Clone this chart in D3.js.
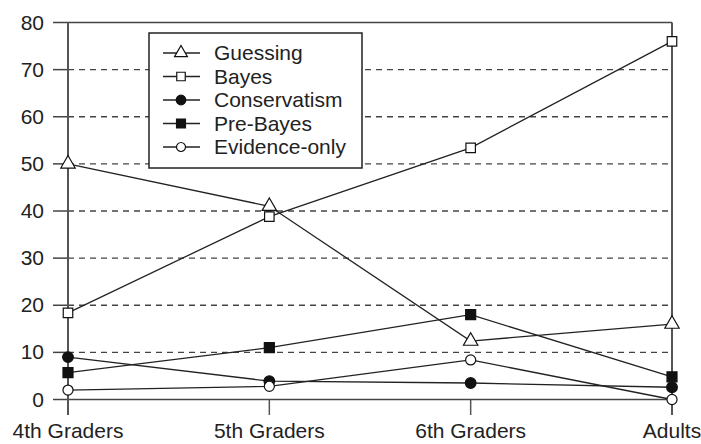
<html>
<head>
<script src="https://d3js.org/d3.v7.min.js"></script>
<style>
  body { margin: 0; background: #fff; }
  text { font-family: "Liberation Sans", Arial, sans-serif; fill: #222; }
</style>
</head>
<body>
<svg id="chart" width="701" height="444"></svg>
<script>
const groups = ['4th Graders', '5th Graders', '6th Graders', 'Adults'];
const yTicks = [0, 10, 20, 30, 40, 50, 60, 70, 80];

const seriesNames = ['Guessing', 'Bayes', 'Conservatism', 'Pre-Bayes', 'Evidence-only'];
const guessing = [50, 41, 12.4, 16];
const bayes = [18.4, 38.8, 53.4, 76];
const conservatism = [9, 3.9, 3.5, 2.6];
const preBayes = [5.7, 11, 18, 4.8];
const evidenceOnly = [2, 2.8, 8.4, 0];

const seriesValues = [guessing, bayes, conservatism, preBayes, evidenceOnly];
const symbols = [
  { type: d3.symbolTriangle, size: 90, fill: '#fff' },
  { type: d3.symbolSquare, size: 90, fill: '#fff' },
  { type: d3.symbolCircle, size: 90, fill: '#111' },
  { type: d3.symbolSquare, size: 100, fill: '#111' },
  { type: d3.symbolCircle, size: 80, fill: '#fff' }
];

const svg = d3.select('svg#chart');

const x = d3.scalePoint().domain(groups).range([68, 672]);
const y = d3.scaleLinear().domain([0, 80]).range([399.5, 22.5]);

// dashed gridlines
svg.append('g')
   .selectAll('line')
   .data(yTicks.filter(d => d > 0 && d < 80))
   .join('line')
   .attr('x1', 68).attr('x2', 672)
   .attr('y1', d => y(d)).attr('y2', d => y(d))
   .attr('stroke', '#444').attr('stroke-width', 1.3)
   .attr('stroke-dasharray', '6,5');

// left ticks, top and bottom lines
svg.append('g')
   .selectAll('line')
   .data(yTicks)
   .join('line')
   .attr('x1', 53).attr('x2', d => (d === 0 || d === 80) ? 672 : 68)
   .attr('y1', d => y(d)).attr('y2', d => y(d))
   .attr('stroke', '#444').attr('stroke-width', 1.5);

svg.append('g')
   .selectAll('text')
   .data(yTicks)
   .join('text')
   .attr('x', 44).attr('y', d => y(d) + 7)
   .attr('text-anchor', 'end')
   .attr('font-size', 21)
   .text(d => d);

// vertical axis lines and x ticks
svg.append('g')
   .selectAll('line')
   .data(groups)
   .join('line')
   .attr('x1', d => x(d)).attr('x2', d => x(d))
   .attr('y1', (d, i) => (i === 0 || i === groups.length - 1) ? y(80) : y(0))
   .attr('y2', 415)
   .attr('stroke', '#555')
   .attr('stroke-width', (d, i) => (i === 0 || i === groups.length - 1) ? 2 : 1.5);

svg.append('g')
   .selectAll('text')
   .data(groups)
   .join('text')
   .attr('x', d => x(d)).attr('y', 438)
   .attr('text-anchor', 'middle')
   .attr('font-size', 21)
   .text(d => d);

// legend
const legend = svg.append('g');
legend.append('rect')
      .attr('x', 149).attr('y', 33).attr('width', 213).attr('height', 135)
      .attr('fill', '#fff').attr('stroke', '#222').attr('stroke-width', 1.5);

seriesNames.forEach((name, i) => {
  const ly = 53 + i * 23.5;
  legend.append('line')
        .attr('x1', 163).attr('x2', 200).attr('y1', ly).attr('y2', ly)
        .attr('stroke', '#222').attr('stroke-width', 1.3);
  legend.append('path')
        .attr('d', d3.symbol().type(symbols[i].type).size(symbols[i].size * 0.8)())
        .attr('transform', `translate(181, ${ly})`)
        .attr('fill', symbols[i].fill).attr('stroke', '#111').attr('stroke-width', 1.2);
  legend.append('text')
        .attr('x', 214).attr('y', ly + 7)
        .attr('font-size', 21)
        .text(name);
});

// series lines
const line = d3.line().x((d, i) => x(groups[i])).y(d => y(d));
const plot = svg.append('g');
seriesValues.forEach((vals, s) => {
  plot.append('path')
      .attr('d', line(vals))
      .attr('fill', 'none').attr('stroke', '#222').attr('stroke-width', 1.3);
});
seriesValues.forEach((vals, s) => {
  plot.append('g')
      .selectAll('path')
      .data(vals)
      .join('path')
      .attr('d', d3.symbol().type(symbols[s].type).size(symbols[s].size)())
      .attr('transform', (d, i) => `translate(${x(groups[i])}, ${y(d)})`)
      .attr('fill', symbols[s].fill).attr('stroke', '#111').attr('stroke-width', 1.2);
});
</script>
</body>
</html>
